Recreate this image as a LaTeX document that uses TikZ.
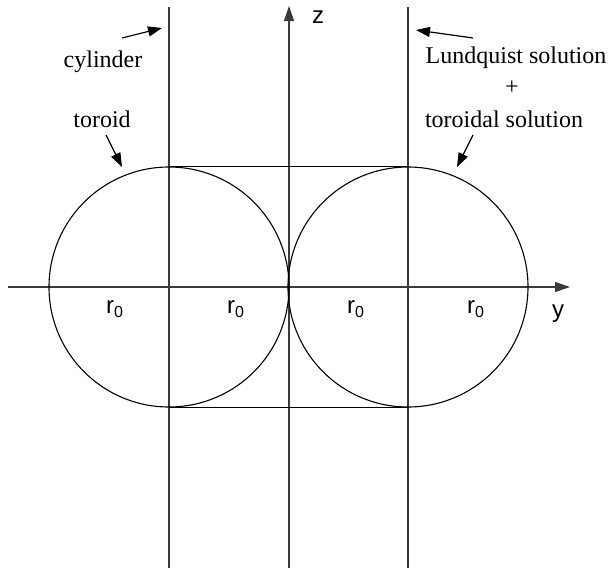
\documentclass[tikz,border=0pt]{standalone}
\usepackage{fontspec}
\setmainfont{Liberation Serif}
\setsansfont{Liberation Sans}
\usetikzlibrary{arrows.meta,positioning}
\definecolor{axline}{HTML}{3A3A3A}
\begin{document}
\begin{tikzpicture}[
  x=0.5pt, y=-0.5pt,
  font=\fontsize{12}{14}\selectfont,
  axis/.style={axline, line width=0.55pt},
  ring/.style={draw, circle, line width=0.55pt, minimum size=120pt, inner sep=0pt},
  lbl/.style={anchor=base, inner sep=0pt},
  axlbl/.style={font=\fontsize{12}{14}\selectfont\sffamily, inner sep=0pt},
  arr/.style={-{Triangle[length=7pt, width=5pt]}, line width=0.6pt},
  axarr/.style={axis, -{Triangle[length=7.5pt, width=5pt]}},
]
\useasboundingbox (0,0) rectangle (615,568);

% axes and the cylinder walls
\coordinate (o) at (289,287);
\coordinate (ytail) at (8,287);
\coordinate (yhead) at (570,287);
\coordinate (ztail) at (289,568);
\coordinate (zhead) at (289,6);
\draw[axarr] (ytail) -- (yhead);
\draw[axarr] (ztail) -- (zhead);
\coordinate (cylLtop) at (169,7);
\coordinate (cylLbot) at (169,568);
\coordinate (cylRtop) at (408,7);
\coordinate (cylRbot) at (408,568);
\draw[axis] (cylLtop) -- (cylLbot);
\draw[axis] (cylRtop) -- (cylRbot);

% the two sections of the toroid
\node[ring] (torL) at (169,287) {};
\node[ring] (torR) at (408,287) {};
\draw[line width=0.55pt] (torL.north) -- (torR.north);
\draw[line width=0.55pt] (torL.south) -- (torR.south);

\node[axlbl] (zl) at (318,17) {z};
\node[axlbl] (yl) at (558,314) {y};
\foreach \i/\px in {1/115,2/236,3/356,4/476}
  \node[axlbl] (r\i) at (\px,309) {r\textsubscript{0}};

% labels
\node[lbl] (cyl) at (103,67) {cylinder};
\node[lbl] (tor) at (102,127) {toroid};
\node[lbl] (lund) at (516,63) {Lundquist solution};
\node (plus) at (512,88) {+};
\node[lbl] (tsol) at (504,127) {toroidal solution};

\coordinate (cylA) at (122,38);
\coordinate (cylB) at (162,28);
\coordinate (torA) at (106,135);
\coordinate (torB) at (122,167);
\coordinate (lundA) at (473,38);
\coordinate (lundB) at (416,30);
\coordinate (tsolA) at (473,135);
\coordinate (tsolB) at (457,167);
\draw[arr] (cylA) -- (cylB);
\draw[arr] (torA) -- (torB);
\draw[arr] (lundA) -- (lundB);
\draw[arr] (tsolA) -- (tsolB);
\end{tikzpicture}
\end{document}
